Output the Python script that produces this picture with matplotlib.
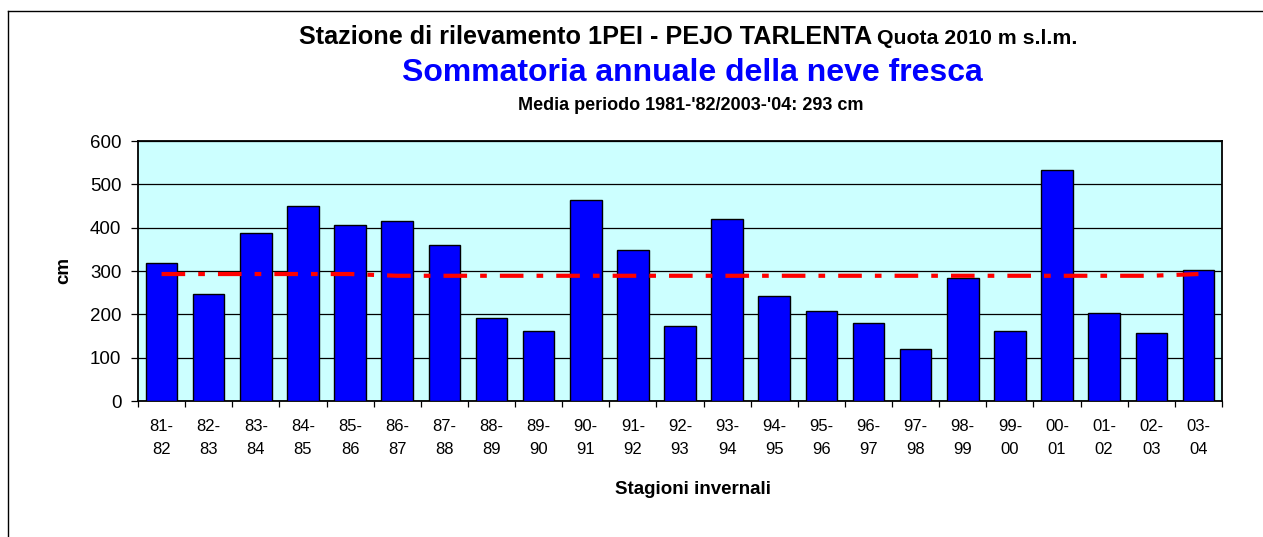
import matplotlib.pyplot as plt
from matplotlib.lines import Line2D
import numpy as np

plt.rcParams['font.family'] = ['Liberation Sans', 'DejaVu Sans']
plt.rcParams['lines.scale_dashes'] = False

stagioni = ["81-\n82", "82-\n83", "83-\n84", "84-\n85", "85-\n86", "86-\n87", "87-\n88",
            "88-\n89", "89-\n90", "90-\n91", "91-\n92", "92-\n93", "93-\n94", "94-\n95",
            "95-\n96", "96-\n97", "97-\n98", "98-\n99", "99-\n00", "00-\n01", "01-\n02",
            "02-\n03", "03-\n04"]
neve = [318, 246, 388, 449, 407, 415, 361, 192, 161, 465, 349, 172, 419, 242,
        207, 180, 119, 284, 161, 534, 203, 157, 303]
media = [293, 293, 293, 293, 293, 289, 289, 289, 289, 289, 289, 289, 289, 289,
         289, 289, 289, 289, 289, 289, 289, 289, 293]

W, H = 1263, 537
fig = plt.figure(figsize=(W / 100, H / 100), dpi=100)
ax = fig.add_axes([138 / W, 1 - 401 / H, (1222 - 138) / W, (401 - 141) / H])

x = np.arange(len(neve))
ax.set_facecolor('#CCFFFF')
ax.bar(x, neve, width=0.67, color='#0000FF', edgecolor='black', linewidth=1.0, zorder=3)
ax.plot(x, media, color='#FF0000', linewidth=3, dashes=(17, 9.4, 4.8, 9.4), zorder=4)

ax.set_xlim(-0.5, len(neve) - 0.5)
ax.set_ylim(0, 600)
ax.set_yticks(range(0, 601, 100))
ax.grid(axis='y', color='black', linewidth=0.9, zorder=1)
ax.set_axisbelow(True)

ax.set_xticks(x)
ax.set_xticklabels(stagioni, fontsize=12, linespacing=1.65)
ax.set_xticks(np.arange(-0.5, len(neve), 1), minor=True)
ax.tick_params(axis='x', which='major', length=0, pad=13)
ax.tick_params(axis='x', which='minor', length=4, width=0.9, direction='out')
ax.tick_params(axis='y', length=5, width=0.9, pad=7, labelsize=13.5)
for s in ax.spines.values():
    s.set_linewidth(1.3)

fig.text(64 / W, 1 - 271 / H, 'cm', rotation=90, fontsize=13.5, fontweight='bold',
         ha='center', va='center')
fig.text(693 / W, 1 - 490 / H, 'Stagioni invernali', fontsize=13.5, fontweight='bold',
         ha='center', va='center')

fig.text(872 / W, 1 - 37 / H, 'Stazione di rilevamento 1PEI - PEJO TARLENTA', fontsize=18.2,
         fontweight='bold', ha='right', va='center')
fig.text(877 / W, 1 - 38 / H, 'Quota 2010 m s.l.m.', fontsize=15.3,
         fontweight='bold', ha='left', va='center')
fig.text(692 / W, 1 - 73 / H, 'Sommatoria annuale della neve fresca', fontsize=23,
         fontweight='bold', color='#0000FF', ha='center', va='center')
fig.text(691 / W, 1 - 105 / H, "Media periodo 1981-'82/2003-'04: 293 cm", fontsize=13,
         fontweight='bold', ha='center', va='center')

# cornice esterna
fig.add_artist(Line2D([8 / W, 8 / W], [0, 1 - 11 / H], transform=fig.transFigure,
                      color='black', linewidth=1))
fig.add_artist(Line2D([8 / W, 1], [1 - 11 / H, 1 - 11 / H], transform=fig.transFigure,
                      color='black', linewidth=1))

fig.savefig('out.png', dpi=100)
